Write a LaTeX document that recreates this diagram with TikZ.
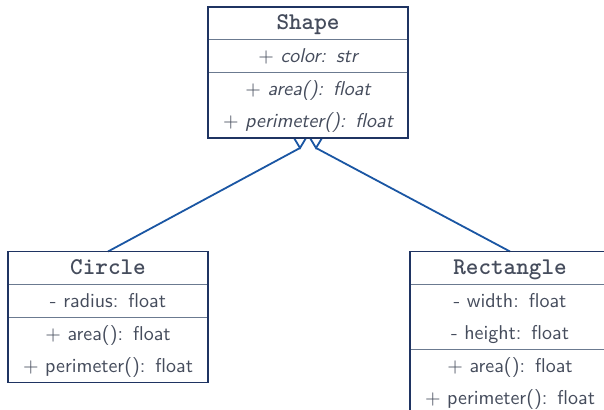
\documentclass[tikz,border=0pt]{standalone}
\usetikzlibrary{positioning,calc}
\definecolor{textC}  {HTML}{454C5C}
\definecolor{borderC}{HTML}{1F3462}
\definecolor{sepC}   {HTML}{6B7A90}
\definecolor{inhC}   {HTML}{1A56A3}
\tikzset{
  classPart/.style={draw=sepC,line width=0.5pt,outer sep=0pt,inner xsep=2pt,
    inner ysep=0.25pt,text width=96pt,align=center,text=textC,
    font=\fontsize{10}{16}\selectfont\sffamily,
    execute at begin node=\strut,execute at end node=\strut},
  className/.style={classPart,font=\fontsize{12}{16}\selectfont\ttfamily\bfseries},
  classAbstract/.style={classPart,font=\fontsize{10}{16}\selectfont\sffamily\itshape},
  classBorder/.style={draw=borderC,line width=0.6pt},
  inhLine/.style={draw=inhC,line width=0.9pt,line join=miter},
}

\begin{document}
\begin{tikzpicture}[x=0.5pt,y=-0.5pt]
\useasboundingbox (0,0) rectangle (604,410);
% base class
\node[className,anchor=north west] (shapeName) at (208,7) {Shape};
\node[classAbstract,below=0pt of shapeName] (shapeAttr) {$+$ color: str};
\node[classAbstract,below=0pt of shapeAttr] (shapeOps) {$+$ area(): float\\$+$ perimeter(): float};
% subclasses
\node[className,anchor=north west] (circleName) at (8,251.5) {Circle};
\node[classPart,below=0pt of circleName] (circleAttr) {- radius: float};
\node[classPart,below=0pt of circleAttr] (circleOps) {$+$ area(): float\\$+$ perimeter(): float};
\node[className,anchor=north west] (rectName) at (410,251.5) {Rectangle};
\node[classPart,below=0pt of rectName] (rectAttr) {- width: float\\- height: float};
\node[classPart,below=0pt of rectAttr] (rectOps) {$+$ area(): float\\$+$ perimeter(): float};
% inheritance
\coordinate (inhCircle) at ($(shapeOps.south)+(-8,10)$);
\coordinate (inhRect) at ($(shapeOps.south)+(8,10)$);
\draw[inhLine] (circleName.north) -- (inhCircle);
\draw[inhLine] (rectName.north) -- (inhRect);
\draw[inhLine,fill=white] (inhCircle) -- ++(-6,-10) -- ++(12,0) -- cycle;
\draw[inhLine,fill=white] (inhRect) -- ++(-6,-10) -- ++(12,0) -- cycle;
% outer frames
\draw[classBorder] (shapeName.north west) rectangle (shapeOps.south east);
\draw[classBorder] (circleName.north west) rectangle (circleOps.south east);
\draw[classBorder] (rectName.north west) rectangle (rectOps.south east);
\end{tikzpicture}
\end{document}
